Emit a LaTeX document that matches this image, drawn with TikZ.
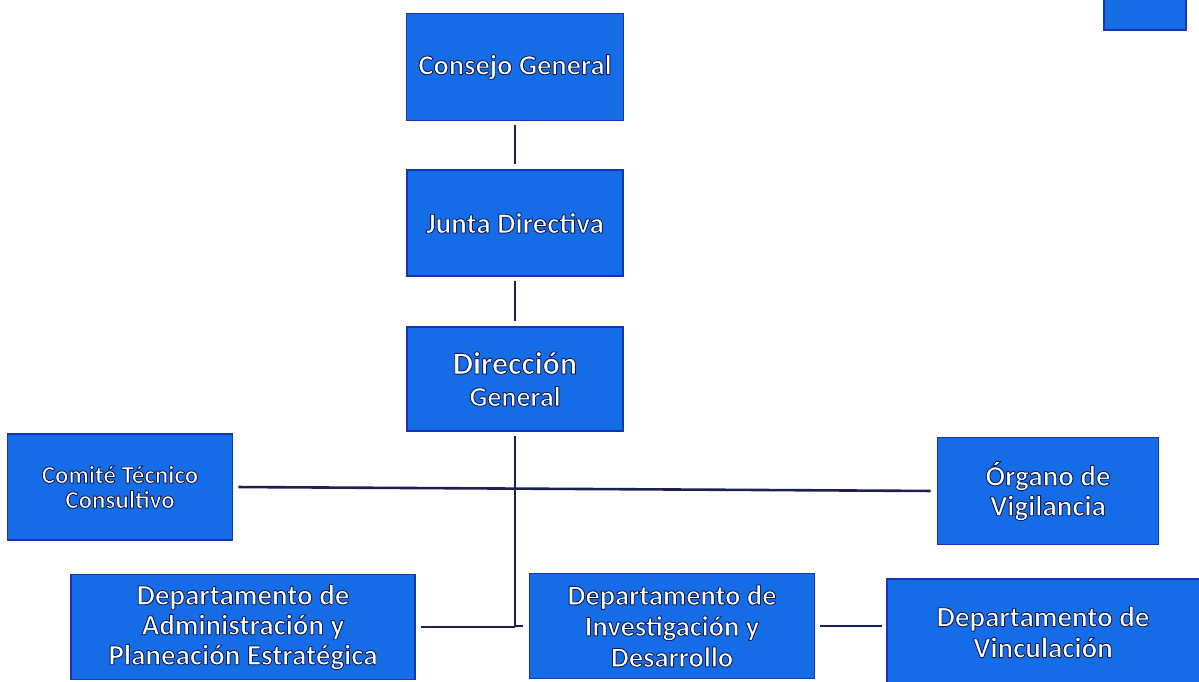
\documentclass[tikz,border=0pt]{standalone}
\usepackage{fontspec}
\setmainfont{Carlito}
\definecolor{boxfill}{HTML}{146CE6}
\definecolor{boxedge}{HTML}{1A35B0}
\definecolor{linecol}{HTML}{1C2050}
\newcommand\halo[1]{\special{pdf:literal direct 2 Tr 0.9 w 1 j 0.05 0.11 0.33 RG}#1\special{pdf:literal direct 0 Tr}}
\tikzset{
  orgbox/.style={draw=boxedge, line width=1.6pt, fill=boxfill, text=white, align=center, inner sep=0pt},
  conn/.style={draw=linecol, line width=2.6pt}
}
\begin{document}
\begin{tikzpicture}[x=1pt,y=-1pt]
\useasboundingbox (0,0) rectangle (1199,682);
\node[orgbox, minimum width=217pt, minimum height=107pt, font=\bfseries\fontsize{28.5}{30}\selectfont] (cg) at (515,67)
  {\halo{Consejo General}};
\node[orgbox, minimum width=216pt, minimum height=106pt, font=\bfseries\fontsize{29}{30}\selectfont] (jd) at (515,223)
  {\halo{Junta Directiva}};
\node[orgbox, minimum width=216pt, minimum height=104pt, font=\bfseries\fontsize{28}{32}\selectfont] (dg) at (515,379)
  {{\fontsize{32}{32}\selectfont\halo{Dirección}}\\\halo{General}};
\node[orgbox, minimum width=225pt, minimum height=106pt, font=\bfseries\fontsize{25}{25}\selectfont] (ctc) at (120,487)
  {\halo{Comité Técnico}\\\halo{Consultivo}};
\node[orgbox, minimum width=221pt, minimum height=107pt, font=\bfseries\fontsize{29}{30}\selectfont] (ov) at (1048,491)
  {\halo{Órgano de}\\\halo{Vigilancia}};
\node[orgbox, minimum width=344pt, minimum height=105pt, font=\bfseries\fontsize{29}{30}\selectfont] (dap) at (243,627)
  {\halo{Departamento de}\\\halo{Administración y}\\\halo{Planeación Estratégica}};
\node[orgbox, minimum width=285pt, minimum height=105pt, font=\bfseries\fontsize{28.5}{31}\selectfont] (di) at (672,626)
  {\halo{Departamento de}\\\halo{Investigación y}\\\halo{Desarrollo}};
\node[orgbox, minimum width=330pt, minimum height=108pt, anchor=north west] (dv) at (886,578) {};
\node[text=white, align=center, inner sep=0pt, font=\bfseries\fontsize{29}{31}\selectfont] (dvt) at (1043,632)
  {\halo{Departamento de}\\\halo{Vinculación}};
\node[orgbox, minimum width=82pt, minimum height=50pt, anchor=south west] (tr) at (1103,31) {};
\coordinate (k) at (515,627);
\draw[conn, shorten <=4pt, shorten >=5pt] (cg) -- (jd);
\draw[conn, shorten <=4pt, shorten >=5pt] (jd) -- (dg);
\draw[conn, shorten <=4pt, shorten >=6pt] (dg.south) |- (di.west);
\draw[conn, shorten <=5pt, shorten >=6pt] (ctc.east) -- (ov.west);
\draw[conn, shorten <=5pt] (dap.east) -- (k);
\draw[conn, shorten <=5pt, shorten >=4pt] (di.east) -- (dv.west |- di.east);
\end{tikzpicture}
\end{document}
